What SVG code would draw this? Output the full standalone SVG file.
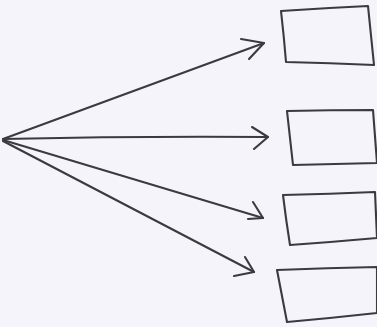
<svg xmlns="http://www.w3.org/2000/svg" width="377" height="327" viewBox="0 0 377 327">
<style>
.s{fill:none;stroke:#3a3a40;stroke-width:2.1;stroke-linecap:round;stroke-linejoin:round}
</style>
<rect width="377" height="327" fill="#f4f4fa"/>
<g id="connectors">
<path class="s" d="M3,139 Q130,92 264,43"/>
<path class="s" d="M241,39 L264,43 L249,59"/>
<path class="s" d="M3,139 Q135,136 268,137"/>
<path class="s" d="M252,127 L268,137 L254,149"/>
<path class="s" d="M3,140 Q135,180 263,218"/>
<path class="s" d="M253,202 L263,218 L248,219"/>
<path class="s" d="M3,141 Q125,205 254,272"/>
<path class="s" d="M245,257 L254,272 L234,276"/>
</g>
<g id="box1"><path class="s" d="M281,11 Q325,8 368,6 Q371,36 374,65 Q330,63 286,62 Q284,37 281,11"/></g>
<g id="box2"><path class="s" d="M287,111 Q330,110 373,110 Q375,136 377,163 Q335,164 293,165 Q290,138 287,111"/></g>
<g id="box3"><path class="s" d="M283,195 Q330,194 375,192 Q376,215 377,238 Q333,242 290,245 Q286,220 283,195"/></g>
<g id="box4"><path class="s" d="M277,270 Q327,268 377,267 Q377,290 377,313 Q332,318 287,322 Q282,296 277,270"/></g>
</svg>
